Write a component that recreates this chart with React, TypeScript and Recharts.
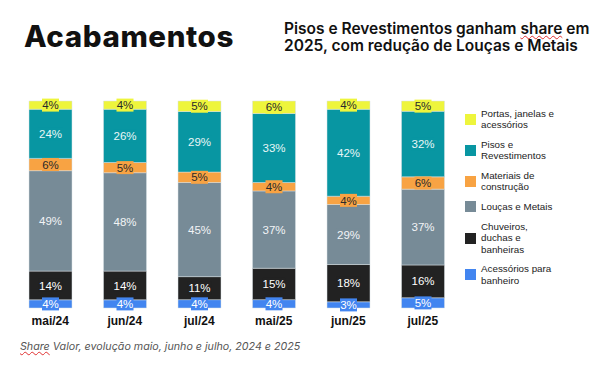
import { BarChart, Bar, XAxis, YAxis, LabelList } from "recharts";

const months = ["mai/24", "jun/24", "jul/24", "mai/25", "jun/25", "jul/25"];

// share (%) por categoria, de baixo para cima na pilha
const acessorios = [4, 4, 4, 4, 3, 5];
const chuveiros = [14, 14, 11, 15, 18, 16];
const loucas = [49, 48, 45, 37, 29, 37];
const materiais = [6, 5, 5, 4, 4, 6];
const pisos = [24, 26, 29, 33, 42, 32];
const portas = [4, 4, 5, 6, 4, 5];

const SERIES = [
  { key: "acessorios", name: "Acessórios para banheiro", lines: ["Acessórios para", "banheiro"], color: "#4285f0", text: "#ffffff", values: acessorios },
  { key: "chuveiros", name: "Chuveiros, duchas e banheiras", lines: ["Chuveiros,", "duchas e", "banheiras"], color: "#222222", text: "#ffffff", values: chuveiros },
  { key: "loucas", name: "Louças e Metais", lines: ["Louças e Metais"], color: "#778b97", text: "#f2f4f6", values: loucas },
  { key: "materiais", name: "Materiais de construção", lines: ["Materiais de", "construção"], color: "#f8a343", text: "#2a2a2a", values: materiais },
  { key: "pisos", name: "Pisos e Revestimentos", lines: ["Pisos e", "Revestimentos"], color: "#0896a2", text: "#e9f6f7", values: pisos },
  { key: "portas", name: "Portas, janelas e acessórios", lines: ["Portas, janelas e", "acessórios"], color: "#eef53c", text: "#2a2a2a", values: portas },
];

const data = months.map((month, i) => {
  const row: Record<string, any> = { month };
  SERIES.forEach((s) => (row[s.key] = s.values[i]));
  return row;
});

const makeLabel = (fill: string, color: string) => (props: any) => {
  const { x, y, width, height, value } = props;
  const cx = x + width / 2;
  const cy = y + height / 2;
  const txt = `${value}%`;
  const w = txt.length * 6.5 + 4;
  return (
    <g>
      <rect x={cx - w / 2} y={cy - 6.5} width={w} height={13} fill={fill} />
      <text
        x={cx}
        y={cy}
        dy="0.36em"
        textAnchor="middle"
        fill={color}
        fontSize={11.5}
        fontFamily="'Liberation Sans', Arial, sans-serif"
      >
        {txt}
      </text>
    </g>
  );
};

function ChartLegend() {
  return (
    <div
      style={{
        position: "absolute",
        left: 465,
        top: 108,
        width: 130,
        fontFamily: "'Liberation Sans', Arial, sans-serif",
        fontSize: 9.8,
        color: "#222",
      }}
    >
      {[...SERIES].reverse().map((s) => (
        <div key={s.key} style={{ display: "flex", alignItems: "center", marginBottom: 8.5 }}>
          <div style={{ width: 11, height: 11, background: s.color, marginRight: 5, flexShrink: 0 }} />
          <div style={{ lineHeight: "11.3px" }}>
            {s.lines.map((l) => (
              <div key={l}>{l}</div>
            ))}
          </div>
        </div>
      ))}
    </div>
  );
}

export default function App() {
  return (
    <div style={{ position: "absolute", left: 0, top: 0, width: 600, height: 370, background: "#fff", overflow: "hidden" }}>
      <div
        style={{
          position: "absolute",
          left: 24,
          top: 18,
          fontFamily: "Inter, sans-serif",
          fontWeight: 800,
          fontSize: 29.5,
          letterSpacing: 0.6,
          color: "#111",
        }}
      >
        Acabamentos
      </div>
      <div
        style={{
          position: "absolute",
          left: 284,
          top: 20,
          fontFamily: "Inter, sans-serif",
          fontWeight: 600,
          fontSize: 15.5,
          lineHeight: "17px",
          color: "#111",
          whiteSpace: "nowrap",
        }}
      >
        Pisos e Revestimentos ganham{" "}
        <span style={{ textDecoration: "underline wavy #e03030", textDecorationThickness: 1 }}>share</span> em
        <br />
        2025, com redução de Louças e Metais
      </div>

      <div style={{ position: "absolute", left: 0, top: 0 }}>
        <BarChart
          width={600}
          height={370}
          data={data}
          stackOffset="expand"
          barSize={43}
          margin={{ top: 101, right: 140, left: 13, bottom: 32 }}
        >
          <XAxis
            dataKey="month"
            axisLine={false}
            tickLine={false}
            height={30}
            tickMargin={2}
            tick={{ fontSize: 12, fontWeight: 700, fill: "#111", fontFamily: "'Liberation Sans', Arial, sans-serif" }}
          />
          <YAxis hide domain={[0, 1]} />
          {SERIES.map((s) => (
            <Bar
              key={s.key}
              dataKey={s.key}
              name={s.name}
              stackId="a"
              fill={s.color}
              stroke="#d8e0e4"
              strokeWidth={0.5}
              isAnimationActive={false}
            >
              <LabelList dataKey={s.key} content={makeLabel(s.color, s.text)} />
            </Bar>
          ))}
        </BarChart>
      </div>

      <ChartLegend />

      <div
        style={{
          position: "absolute",
          left: 20,
          top: 340,
          fontFamily: "Inter, sans-serif",
          fontStyle: "italic",
          fontSize: 10.7,
          color: "#555",
        }}
      >
        <span style={{ textDecoration: "underline wavy #e03030", textDecorationThickness: 1 }}>Share</span> Valor,
        evolução maio, junho e julho, 2024 e 2025
      </div>
    </div>
  );
}
